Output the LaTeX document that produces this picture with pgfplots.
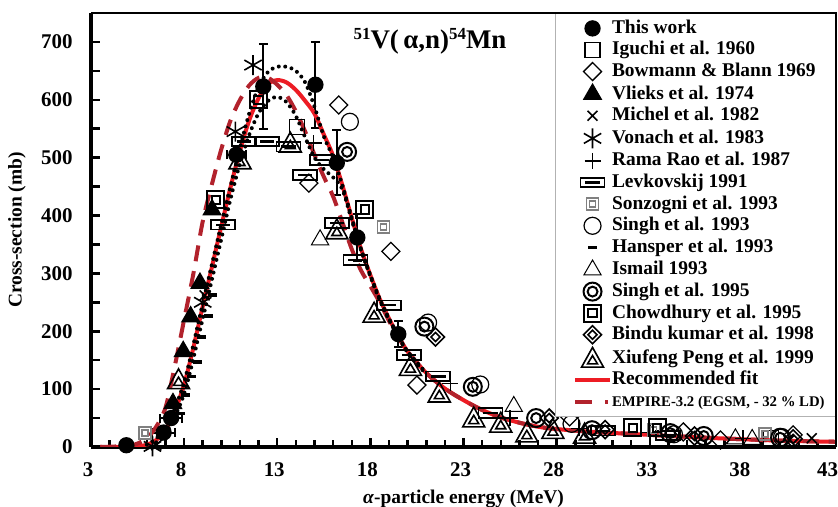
\documentclass[border=0pt]{standalone}
\usepackage{pgfplots}
\pgfplotsset{compat=1.18}
\usepackage{fontspec}
\setmainfont{Liberation Serif}
\usetikzlibrary{calc}

% plot marks used by the data sets
\pgfdeclareplotmark{osq}{%
  \pgfpathrectangle{\pgfpoint{-\pgfplotmarksize}{-\pgfplotmarksize}}{\pgfpoint{2\pgfplotmarksize}{2\pgfplotmarksize}}%
  \pgfusepathqstroke}
\pgfdeclareplotmark{dsquare}{%
  \pgfpathrectangle{\pgfpoint{-\pgfplotmarksize}{-\pgfplotmarksize}}{\pgfpoint{2\pgfplotmarksize}{2\pgfplotmarksize}}%
  \pgfpathrectangle{\pgfpoint{-0.5\pgfplotmarksize}{-0.5\pgfplotmarksize}}{\pgfpoint{\pgfplotmarksize}{\pgfplotmarksize}}%
  \pgfusepathqstroke}
\pgfdeclareplotmark{dcircle}{%
  \pgfpathcircle{\pgfpointorigin}{\pgfplotmarksize}%
  \pgfpathcircle{\pgfpointorigin}{0.55\pgfplotmarksize}%
  \pgfusepathqstroke}
\pgfdeclareplotmark{ocircle}{%
  \pgfpathcircle{\pgfpointorigin}{\pgfplotmarksize}%
  \pgfusepathqstroke}
\pgfdeclareplotmark{odiam}{%
  \pgfpathmoveto{\pgfpoint{0pt}{\pgfplotmarksize}}%
  \pgfpathlineto{\pgfpoint{\pgfplotmarksize}{0pt}}%
  \pgfpathlineto{\pgfpoint{0pt}{-\pgfplotmarksize}}%
  \pgfpathlineto{\pgfpoint{-\pgfplotmarksize}{0pt}}%
  \pgfpathclose
  \pgfusepathqstroke}
\pgfdeclareplotmark{ddiam}{%
  \pgfpathmoveto{\pgfpoint{0pt}{\pgfplotmarksize}}%
  \pgfpathlineto{\pgfpoint{\pgfplotmarksize}{0pt}}%
  \pgfpathlineto{\pgfpoint{0pt}{-\pgfplotmarksize}}%
  \pgfpathlineto{\pgfpoint{-\pgfplotmarksize}{0pt}}%
  \pgfpathclose
  \pgfpathmoveto{\pgfpoint{0pt}{0.5\pgfplotmarksize}}%
  \pgfpathlineto{\pgfpoint{0.5\pgfplotmarksize}{0pt}}%
  \pgfpathlineto{\pgfpoint{0pt}{-0.5\pgfplotmarksize}}%
  \pgfpathlineto{\pgfpoint{-0.5\pgfplotmarksize}{0pt}}%
  \pgfpathclose
  \pgfusepathqstroke}
\pgfdeclareplotmark{dtri}{%
  \pgfpathmoveto{\pgfpoint{0pt}{\pgfplotmarksize}}%
  \pgfpathlineto{\pgfpoint{\pgfplotmarksize}{-0.8\pgfplotmarksize}}%
  \pgfpathlineto{\pgfpoint{-\pgfplotmarksize}{-0.8\pgfplotmarksize}}%
  \pgfpathclose
  \pgfpathmoveto{\pgfpoint{0pt}{0.25\pgfplotmarksize}}%
  \pgfpathlineto{\pgfpoint{0.45\pgfplotmarksize}{-0.5\pgfplotmarksize}}%
  \pgfpathlineto{\pgfpoint{-0.45\pgfplotmarksize}{-0.5\pgfplotmarksize}}%
  \pgfpathclose
  \pgfusepathqstroke}
\pgfdeclareplotmark{levk}{%
  \pgfpathrectangle{\pgfpoint{-1.5\pgfplotmarksize}{-0.6\pgfplotmarksize}}{\pgfpoint{3\pgfplotmarksize}{1.2\pgfplotmarksize}}%
  \pgfusepathqstroke
  \pgfpathrectangle{\pgfpoint{-0.9\pgfplotmarksize}{-0.15\pgfplotmarksize}}{\pgfpoint{1.8\pgfplotmarksize}{0.3\pgfplotmarksize}}%
  \pgfusepathqfill}
\pgfdeclareplotmark{hdash}{%
  \pgfpathrectangle{\pgfpoint{-\pgfplotmarksize}{-0.4\pgfplotmarksize}}{\pgfpoint{2\pgfplotmarksize}{0.8\pgfplotmarksize}}%
  \pgfusepathqfill}

\definecolor{fitred}{RGB}{237,28,36}
\definecolor{empred}{RGB}{178,34,44}

\newcommand{\isosup}[1]{\raisebox{9bp}{\fontsize{17}{17}\selectfont #1}}

\pgfplotsset{
  mk/.style={only marks, black, line width=1.3bp, mark options={solid, fill=black},
    legend image code/.code={\path (-7bp,0bp) (35bp,0bp);
      \draw[##1] plot coordinates {(17.5bp,0bp)};}},
  empleg/.style={legend image code/.code={\path (-7bp,0bp) (35bp,0bp);
      \draw[##1, dash pattern=on 17bp off 13bp on 3bp off 10bp] (0bp,0bp) -- (35bp,0bp);}},
}

\begin{document}
\begin{tikzpicture}
\begin{axis}[
  name=ax,
  scale only axis, width=745bp, height=434bp,
  xmin=3, xmax=43, ymin=0, ymax=750,
  axis x line*=bottom, axis y line*=left,
  axis line style={line width=3.5bp,-},
  xtick pos=bottom, ytick pos=left, tick align=inside,
  xtick={3,8,...,43}, minor x tick num=4,
  xticklabels={3,8,13,18,23,28,33,38,\makebox[0pt][r]{43\hspace{-5bp}}},
  ytick={0,50,...,700},
  yticklabels={0,,100,,200,,300,,400,,500,,600,,700},
  major tick length=9bp, minor tick length=7bp,
  tick style={line width=2.5bp,black},
  tick label style={font=\bfseries\fontsize{21}{21}\selectfont},
  xticklabel style={yshift=-12bp, xshift=-3bp},
  yticklabel style={xshift=-15bp},
  xlabel={\textit{α}-particle energy (MeV)},
  ylabel={Cross-section (mb)},
  label style={font=\bfseries\fontsize{19.5}{20}\selectfont},
  xlabel style={at={(axis description cs:0.5,-0.12)}, anchor=center},
  ylabel style={at={(axis description cs:-0.0993,0.5)}, anchor=center},
  legend style={at={(1,1)}, anchor=north east, draw=gray!60, line width=0.8bp,
    fill=white, font=\bfseries\fontsize{19.5}{20}\selectfont,
    inner xsep=11bp, inner ysep=6bp, row sep=3.6bp,
    nodes={inner sep=0pt, text height=14bp, text depth=4bp},
    /tikz/column 2/.style={column sep=4bp}},
  legend cell align=left,
  legend image code/.code={\path (-7bp,0bp) (35bp,0bp); \draw[#1] (0bp,0bp) -- (35bp,0bp);},
]

% This work, with error bars
\addplot[mk, mark=*, mark size=7.5bp,
  error bars/.cd, x dir=both, x explicit, y dir=both, y explicit,
  error bar style={line width=2bp, black},
  error mark options={rotate=90, mark size=4.5bp, line width=2bp, black}]
  table[x=x, y=y, x error=ex, y error=ey] {
x y ex ey
4.9 3 0 0
6.9 25 0.6 6
7.3 50 0.6 8
10.8 505 0.5 10
12.25 623 0 74
15.05 626 0 74
16.2 491 0 56
17.3 362 0 40
19.5 195 0 22
};
\addlegendentry{This work}

% Iguchi et al. 1960
\addplot[mk, mark=osq, mark size=7.5bp] coordinates {
(14.05,553) (39.5,16)};
\addlegendentry{Iguchi et al. 1960}

% Bowmann & Blann 1969
\addplot[mk, mark=odiam, mark size=9bp] coordinates {
(14.7,456) (16.3,591) (19.1,338) (20.5,107) (28.7,52) (34.8,26) (36.8,12) (40.7,21)};
\addlegendentry{Bowmann \& Blann 1969}

% Vlieks et al. 1974
\addplot[mk, mark=triangle*, mark size=10bp] coordinates {
(7.4,75) (7.95,165) (8.35,225) (8.85,283) (9.5,410)};
\addlegendentry{Vlieks et al. 1974}

% Michel et al. 1982
\addplot[mk, mark=x, mark size=7bp, line width=1.6bp] coordinates {
(6.5,3) (9.1,262) (40.5,12) (41.7,15)};
\addlegendentry{Michel et al. 1982}

% Vonach et al. 1983
\addplot[mk, mark=asterisk, mark size=10bp, line width=1.6bp] coordinates {
(6.3,1) (9.0,250) (10.75,545) (11.7,660)};
\addlegendentry{Vonach et al. 1983}

% Rama Rao et al. 1987
\addplot[mk, mark=+, mark size=8bp, line width=1.6bp] coordinates {
(14.95,525) (22.3,110) (25.5,50) (29.2,32) (33.0,25) (38.0,15)};
\addlegendentry{Rama Rao et al. 1987}

% Levkovskij 1991
\addplot[mk, mark=levk, mark size=8bp, line width=1.8bp] coordinates {
(10.1,384) (11.2,528) (12.45,528) (13.6,519) (14.5,470) (15.4,496) (16.2,387)
(17.2,323) (19.0,245) (20.06,159) (21.65,122) (24.45,59) (30.5,28) (34.0,20)};
\addlegendentry{Levkovskij 1991}

% Sonzogni et al. 1993
\addplot[mk, mark=dsquare, mark size=6bp, gray, line width=1.8bp] coordinates {
(5.9,24) (18.7,380) (33.2,30) (39.2,22)};
\addlegendentry{Sonzogni et al. 1993}

% Singh et al. 1993
\addplot[mk, mark=ocircle, mark size=8.5bp, line width=1.2bp] coordinates {
(16.9,562) (21.1,215) (23.9,108) (28.8,40) (34.3,22) (40.1,17)};
\addlegendentry{Singh et al. 1993}

% Hansper et al. 1993
\addplot[mk, mark=hdash, mark size=4.5bp] coordinates {
(7.8,58) (8.1,90) (8.4,122) (8.7,147) (8.95,190) (9.3,226) (9.5,263)};
\addlegendentry{Hansper et al. 1993}

% Ismail 1993
\addplot[mk, mark=triangle, mark size=10bp, line width=1bp] coordinates {
(15.3,358) (25.7,70) (37.6,14) (38.5,13)};
\addlegendentry{Ismail 1993}

% Singh et al. 1995
\addplot[mk, mark=dcircle, mark size=9bp, line width=2bp] coordinates {
(16.75,510) (20.9,208) (23.5,104) (26.9,50) (29.9,29) (34.1,24) (35.9,19) (40.0,16)};
\addlegendentry{Singh et al. 1995}

% Chowdhury et al. 1995
\addplot[mk, mark=dsquare, mark size=8.5bp, line width=2bp] coordinates {
(9.7,427) (12.0,600) (17.7,410) (32.1,33) (33.4,33)};
\addlegendentry{Chowdhury et al. 1995}

% Bindu kumar et al. 1998
\addplot[mk, mark=ddiam, mark size=9bp, line width=1.6bp] coordinates {
(21.5,190) (27.6,50) (30.6,30) (35.4,19) (40.7,14)};
\addlegendentry{Bindu kumar et al. 1998}

% Xiufeng Peng et al. 1999
\addplot[mk, mark=dtri, mark size=11bp, line width=1.6bp] coordinates {
(7.7,116) (11.0,496) (13.7,525) (16.2,375) (18.2,231) (20.15,139) (21.7,93)
(23.55,50) (25.0,41) (26.4,24) (27.8,30) (29.5,22)};
\addlegendentry{Xiufeng Peng et al. 1999}

% recommended fit
\addplot[fitred, line width=4bp, smooth] coordinates {
(3.5,0) (4.5,0) (5.5,1) (6,4) (6.5,12) (7,30) (7.5,62) (8,108) (8.5,172) (9,243)
(9.5,312) (10,382) (10.5,450) (11,512) (11.5,565) (12,603) (12.5,627) (13,634)
(13.5,630) (14,617) (14.5,598) (15,576) (15.5,540) (16,503) (16.5,452) (17,396)
(17.5,342) (18,297) (18.5,256) (19,222) (19.5,192) (20,165) (21,128) (22,101)
(23,81) (24,64) (25,51) (26,42) (27,35) (28,31) (30,26) (33,21) (36,16) (40,11) (43,9)};
\addlegendentry{Recommended fit}

% EMPIRE-3.2
\addplot[empred, line width=4bp, smooth, dash pattern=on 16bp off 10bp, empleg] coordinates {
(3.5,0) (5,2) (5.5,6) (6,15) (6.5,35) (7,68) (7.5,140) (8,220) (8.5,300) (9,390)
(9.5,455) (10,515) (10.5,565) (11,600) (11.5,625) (12,638) (12.5,638) (13,626)
(13.5,608) (14,580) (14.5,545) (15,505) (15.5,467) (16,433) (16.5,388) (17,342)
(17.5,305) (18,278) (18.5,250) (19,218) (19.5,190) (20,165) (21,128) (22,101)
(23,81) (24,64) (25,51) (26,42) (27,35) (28,31) (30,26) (33,21) (36,16) (40,11) (43,9)};
\addlegendentry{\fontsize{14.8}{16}\selectfont EMPIRE-3.2 (EGSM, - 32 \% LD)}

% uncertainty band of the fit (dotted)
\addplot[black, line width=4bp, line cap=round, dash pattern=on 0bp off 6.5bp, smooth, forget plot] coordinates {
(6,4) (7,32) (8,112) (9,248) (10,385) (10.5,452) (11,517) (11.5,577) (12,622)
(12.5,648) (13,657) (13.5,657) (14,650) (14.5,630) (15,588) (15.5,537) (16,500)
(16.5,452) (17,396) (17.5,342) (18,297) (18.5,256) (19,222) (19.5,192) (20,165) (21,128)};
\addplot[black, line width=4bp, line cap=round, dash pattern=on 0bp off 6.5bp, smooth, forget plot] coordinates {
(6.5,8) (7,22) (8,92) (9,222) (10,360) (10.5,430) (11,490) (11.5,540) (12,577)
(12.5,598) (13,605) (13.5,596) (14,572) (14.5,535) (15,500) (15.5,480) (16,466)
(16.5,445) (17,392) (17.5,340) (18,295) (18.5,254) (19,220) (20,163) (21,126)};

\node[font=\bfseries\fontsize{27}{27}\selectfont, anchor=base, inner sep=0pt]
  at (rel axis cs:0.455,0.919) {\isosup{51}V(\,α,n)\isosup{54}Mn};
\end{axis}
\draw[line width=2bp] (ax.north west) -- (ax.north east) -- (ax.south east);
\pgfresetboundingbox
\path ($(ax.south west)+(-91bp,-60bp)$) rectangle ($(ax.north east)+(2bp,13bp)$);
\end{tikzpicture}
\end{document}
